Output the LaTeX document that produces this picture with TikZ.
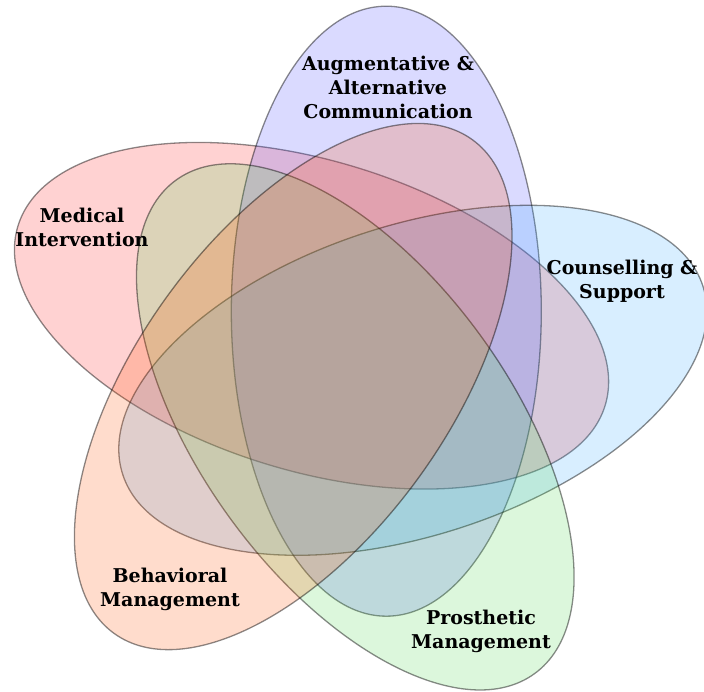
\documentclass[tikz,border=0pt]{standalone}
\usepackage{fontspec}
\setmainfont{DejaVu Serif}

\definecolor{medred}{RGB}{255,30,30}
\definecolor{aacblue}{RGB}{70,70,255}
\definecolor{cnsblue}{RGB}{60,170,255}
\definecolor{prsgreen}{RGB}{80,215,80}
\definecolor{behorange}{RGB}{255,80,0}

\begin{document}
\begin{tikzpicture}[x=1pt, y=1pt,
    setarea/.style={draw=black, draw opacity=0.45, line width=1.3pt, fill opacity=0.2},
    setname/.style={font=\fontsize{19}{24}\selectfont\bfseries, align=center, inner sep=0pt}]
  \useasboundingbox (0,0) rectangle (704,691);
  % five congruent ellipses, each turned by 72 degrees about the middle
  \filldraw[setarea, fill=medred, rotate around={73:(352,327)}] (386.3,379.8) ellipse [x radius=155, y radius=307];
  \filldraw[setarea, fill=aacblue] (386.3,379.8) ellipse [x radius=155, y radius=305];
  \filldraw[setarea, fill=cnsblue, rotate around={288:(352,327)}] (386.3,379.8) ellipse [x radius=155, y radius=305];
  \filldraw[setarea, fill=prsgreen, rotate around={216:(352,327)}] (386.3,379.8) ellipse [x radius=155, y radius=305];
  \filldraw[setarea, fill=behorange, rotate around={144:(352,327)}] (386.3,379.8) ellipse [x radius=155, y radius=305];
  % set names
  \node[setname] (aac) at (388,604) {Augmentative \&\\Alternative\\Communication};
  \node[setname] (medical) at (82,464) {Medical\\Intervention};
  \node[setname] (counselling) at (622,410) {Counselling \&\\Support};
  \node[setname] (behavioral) at (170,102) {Behavioral\\Management};
  \node[setname] (prosthetic) at (481,60) {Prosthetic\\Management};
\end{tikzpicture}
\end{document}
